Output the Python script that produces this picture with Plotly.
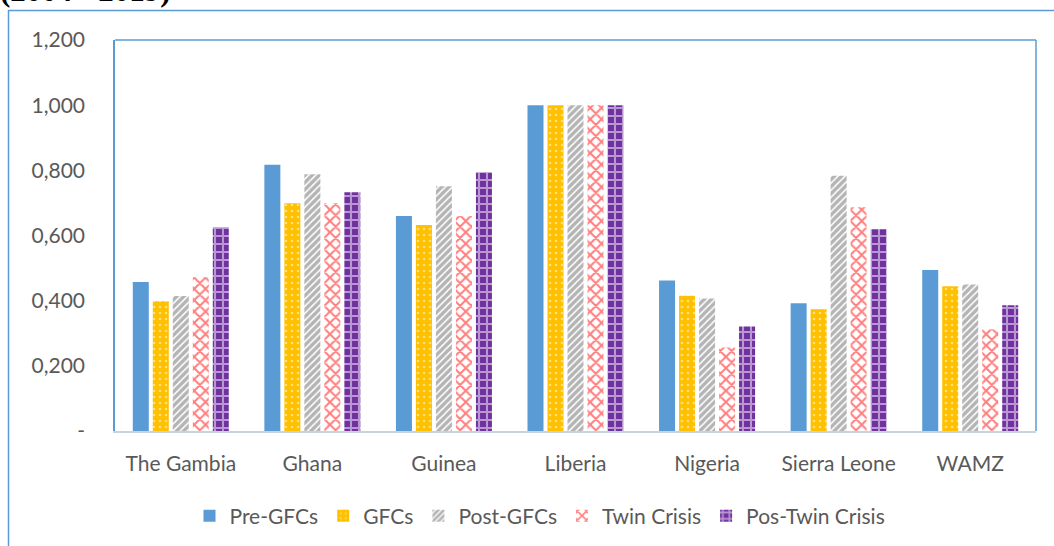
import plotly.graph_objects as go

categories = ["The Gambia", "Ghana", "Guinea", "Liberia", "Nigeria", "Sierra Leone", "WAMZ"]
series_names = ["Pre-GFCs", "GFCs", "Post-GFCs", "Twin Crisis", "Pos-Twin Crisis"]
pre_gfcs = [0.457, 0.817, 0.660, 1.000, 0.462, 0.392, 0.494]
gfcs = [0.398, 0.699, 0.632, 1.000, 0.415, 0.374, 0.444]
post_gfcs = [0.414, 0.788, 0.751, 1.000, 0.407, 0.783, 0.450]
twin_crisis = [0.472, 0.699, 0.660, 1.000, 0.256, 0.687, 0.312]
pos_twin_crisis = [0.625, 0.733, 0.794, 1.000, 0.321, 0.619, 0.386]
tick_vals = [0, 0.2, 0.4, 0.6, 0.8, 1.0, 1.2]
tick_text = ["-", "0,200", "0,400", "0,600", "0,800", "1,000", "1,200"]
title_text = "(2004 - 2019)"

series_values = [pre_gfcs, gfcs, post_gfcs, twin_crisis, pos_twin_crisis]
styles = [
    dict(color="#5B9BD5"),
    dict(color="#FFC000", pattern=dict(shape=".", fgcolor="white", bgcolor="#FFC000", size=6, solidity=0.15)),
    dict(color="#7F7F7F", pattern=dict(shape="/", fgcolor="#6A6A6A", bgcolor="white", size=5, solidity=0.7)),
    dict(color="#FF0000", pattern=dict(shape="x", fgcolor="#FF0000", bgcolor="white", size=8, solidity=0.45)),
    dict(color="#7030A0", pattern=dict(shape="+", fgcolor="white", bgcolor="#7030A0", size=8, solidity=0.45)),
]

fig = go.Figure()
for name, vals, st in zip(series_names, series_values, styles):
    fig.add_trace(go.Bar(name=name, x=categories, y=vals,
                         marker=dict(line=dict(width=0), **st)))

W, H = 1054, 546
L, R, T, B = 115, 18, 40, 115
pw, ph = W - L - R, H - T - B

def px(x):
    return (x - L) / pw

def py(y):
    return (H - B - y) / ph

fig.update_layout(
    width=W, height=H,
    margin=dict(l=L, r=R, t=T, b=B, autoexpand=False),
    paper_bgcolor="white", plot_bgcolor="white",
    barmode="group", bargap=0.24, bargroupgap=0.2,
    font=dict(family="Lato, Carlito, sans-serif", size=21, color="#595959"),
    showlegend=True,
    legend=dict(orientation="h", x=px(540), xanchor="center", y=py(516), yanchor="middle",
                font=dict(size=21, color="#595959"), itemwidth=30, tracegroupgap=0),
    xaxis=dict(showline=True, linecolor="#C9D3DE", linewidth=2, ticks="",
               showgrid=False, ticklabelstandoff=13),
    yaxis=dict(range=[0, 1.2], tickvals=tick_vals, ticktext=tick_text, showgrid=False,
               showline=True, linecolor="#5B9BD5", linewidth=1.5, ticks="",
               zeroline=False, ticklabelstandoff=24),
    shapes=[
        dict(type="line", xref="paper", yref="paper", x0=0, x1=1, y0=1, y1=1,
             line=dict(color="#5B9BD5", width=1.5)),
        dict(type="line", xref="paper", yref="paper", x0=1, x1=1, y0=0, y1=1,
             line=dict(color="#5B9BD5", width=1.5)),
        dict(type="rect", xref="paper", yref="paper", x0=px(8.5), x1=px(1100), y0=py(10.5), y1=py(700),
             line=dict(color="#5B9BD5", width=1.5), fillcolor="rgba(0,0,0,0)", layer="below"),
    ],
    annotations=[
        dict(text="<b>" + title_text + "</b>", xref="paper", yref="paper", x=px(-2), y=py(9.5),
             xanchor="left", yanchor="bottom", showarrow=False,
             font=dict(family="Liberation Serif", size=31, color="black")),
    ],
)

fig.write_html("out.html", config={"displayModeBar": False},
               post_script="document.body.style.margin='0';document.body.style.overflow='hidden';")
